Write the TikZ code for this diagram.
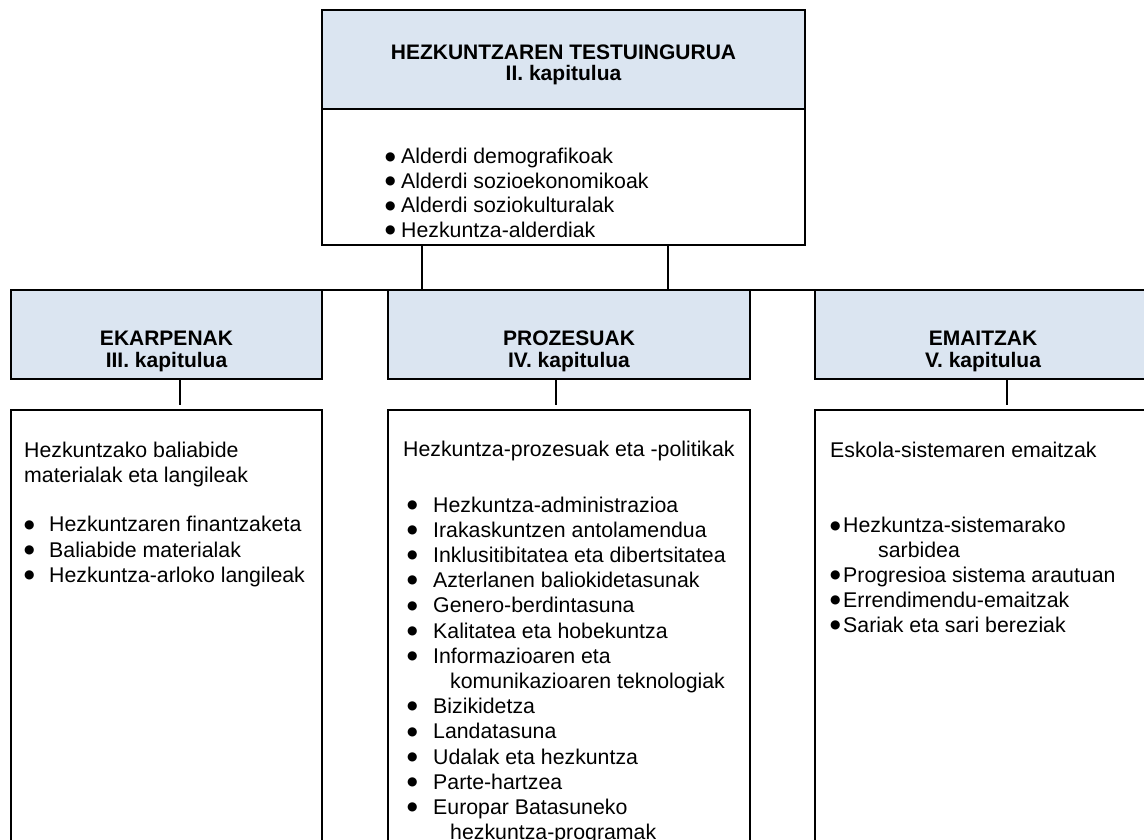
\documentclass[tikz,border=0pt]{standalone}
\usepackage{fontspec}
\setmainfont{Liberation Sans}
\newfontfamily\bulfont{DejaVu Sans}
\definecolor{hdrblue}{HTML}{DBE5F1}
\newcommand\bodyfont{\fontsize{21.3}{25.2}\selectfont}
\newcommand\headfont{\fontsize{21}{21.5}\selectfont\bfseries}
\newcommand\bul{\raisebox{3.8pt}{\bulfont\fontsize{12}{12}\selectfont ●}}
\begin{document}
\begin{tikzpicture}[x=1pt,y=-1pt,
  box/.style={draw,line width=1.7pt,anchor=north west,inner sep=0pt,outer sep=0pt},
  hdrbox/.style={box,fill=hdrblue},
  conn/.style={line width=1.5pt},
  thinconn/.style={line width=1.1pt},
  body/.style={anchor=base west,inner sep=0pt,font=\bodyfont},
  head/.style={anchor=base,inner sep=0pt,font=\headfont,align=center}]
\useasboundingbox (0,0) rectangle (1144,840);
\clip (0,0) rectangle (1144,840);
% top box
\node[box,minimum width=483pt,minimum height=235pt] (top) at (322,10) {};
\node[hdrbox,minimum width=483pt,minimum height=99pt] (tophead) at (322,10) {};
% header boxes
\node[hdrbox,minimum width=311pt,minimum height=89pt] (lh) at (11,290) {};
\node[hdrbox,minimum width=362pt,minimum height=89pt] (mh) at (388,290) {};
\node[hdrbox,minimum width=336pt,minimum height=89pt] (rh) at (815,290) {};
% content boxes
\node[box,minimum width=311pt,minimum height=460pt] (lc) at (11,410) {};
\node[box,minimum width=362pt,minimum height=460pt] (mc) at (388,410) {};
\node[box,minimum width=336pt,minimum height=460pt] (rc) at (815,410) {};
% bus and connectors
\draw[line width=1.7pt] (lh.north west) -- (rh.north east);
\coordinate (c1) at ([xshift=-141.5pt]top.south);
\coordinate (c2) at ([xshift=104.5pt]top.south);
\draw[conn] (c1) -- (c1 |- mh.north);
\draw[conn] (c2) -- (c2 |- mh.north);
\draw[thinconn] ([xshift=13.5pt]lh.south) -- ([xshift=13.5pt,yshift=5pt]lc.north);
\draw[thinconn] ([xshift=-13pt]mh.south) -- ([xshift=-13pt,yshift=5pt]mc.north);
\draw[thinconn] ([xshift=24pt]rh.south) -- ([xshift=24pt,yshift=5pt]rc.north);
% header texts (anchor base = last line)
\node[head] (t1) at (563.5,81) {HEZKUNTZAREN TESTUINGURUA\\II. kapitulua};
\node[head] (t2) at (166.5,367) {EKARPENAK\\III. kapitulua};
\node[head] (t3) at (569,367) {PROZESUAK\\IV. kapitulua};
\node[head] (t4) at (983,367) {EMAITZAK\\V. kapitulua};
% top list
\node[body] (l0) at (385,164) {\fontsize{21.3}{24.5}\selectfont\begin{tabular}[t]{@{}p{16pt}@{}l@{}}
\bul&Alderdi demografikoak\\
\bul&Alderdi sozioekonomikoak\\
\bul&Alderdi soziokulturalak\\
\bul&Hezkuntza-alderdiak
\end{tabular}};
% left list
\node[body] (l1) at (24,457) {\begin{tabular}[t]{@{}p{25pt}@{}l@{}}
\multicolumn{2}{@{}l@{}}{Hezkuntzako baliabide}\\
\multicolumn{2}{@{}l@{}}{materialak eta langileak}\\[24.5pt]
\bul&Hezkuntzaren finantzaketa\\
\bul&Baliabide materialak\\
\bul&Hezkuntza-arloko langileak
\end{tabular}};
% middle list
\node[body] (m0) at (403,456) {Hezkuntza-prozesuak eta -politikak};
\node[body] (m1) at (407,512) {\begin{tabular}[t]{@{}p{26pt}@{}l@{}}
\bul&Hezkuntza-administrazioa\\
\bul&Irakaskuntzen antolamendua\\
\bul&Inklusitibitatea eta dibertsitatea\\
\bul&Azterlanen baliokidetasunak\\
\bul&Genero-berdintasuna\\
\bul&Kalitatea eta hobekuntza\\
\bul&Informazioaren eta\\
&\hspace*{17pt}komunikazioaren teknologiak\\
\bul&Bizikidetza\\
\bul&Landatasuna\\
\bul&Udalak eta hezkuntza\\
\bul&Parte-hartzea\\
\bul&Europar Batasuneko\\
&\hspace*{17pt}hezkuntza-programak
\end{tabular}};
% right list
\node[body] (r1) at (830,457) {\fontsize{21.3}{24.8}\selectfont\begin{tabular}[t]{@{}p{13pt}@{}l@{}}
\multicolumn{2}{@{}l@{}}{Eskola-sistemaren emaitzak}\\[51pt]
\bul&Hezkuntza-sistemarako\\
&\hspace*{35pt}sarbidea\\
\bul&Progresioa sistema arautuan\\
\bul&Errendimendu-emaitzak\\
\bul&Sariak eta sari bereziak
\end{tabular}};
\end{tikzpicture}
\end{document}
